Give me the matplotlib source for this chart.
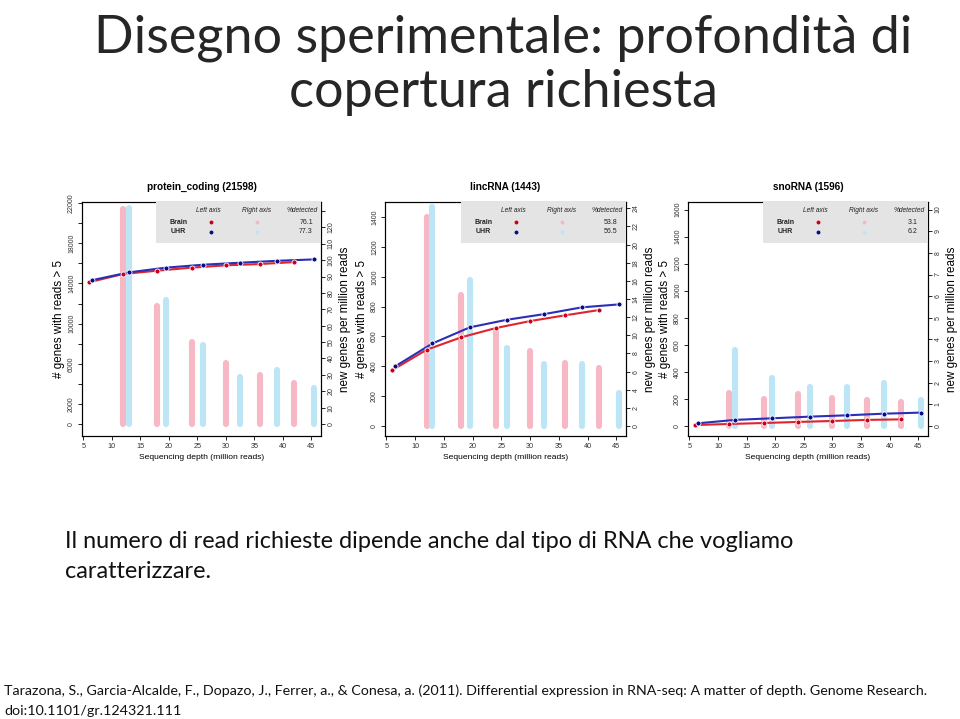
import matplotlib
matplotlib.use("Agg")
import matplotlib.pyplot as plt
from matplotlib.patches import Rectangle
from matplotlib.lines import Line2D

W, H = 960, 719

# sequencing depth (million reads)
depth_brain = [6, 12, 18, 24, 30, 36, 42]
depth_uhr = [6.5, 13, 19.5, 26, 32.5, 39, 45.5]
x_ticks = [5, 10, 15, 20, 25, 30, 35, 40, 45]

# protein_coding
pc_genes_brain = [14120, 14940, 15270, 15570, 15800, 15930, 16120]
pc_genes_uhr = [14320, 15100, 15570, 15860, 16060, 16250, 16390]
pc_new_brain = [131, 72, 49.8, 37.3, 30, 25.2]
pc_new_uhr = [131.7, 75.6, 48, 28.8, 32.9, 22.2]

# lincRNA
linc_genes_brain = [374, 511, 594, 656, 703, 741, 777]
linc_genes_uhr = [399, 553, 661, 712, 750, 795, 815]
linc_new_brain = [23.1, 14.4, 10.5, 8.3, 6.9, 6.35]
linc_new_uhr = [24.1, 16.1, 8.6, 6.83, 6.8, 3.6]

# snoRNA
sno_genes_brain = [7, 15, 22, 30, 37, 45, 49]
sno_genes_uhr = [20, 45, 57, 69, 79, 91, 99]
sno_new_brain = [1.51, 1.24, 1.47, 1.31, 1.22, 1.13]
sno_new_uhr = [3.49, 2.24, 1.82, 1.82, 1.98, 1.2]

panels = [
    dict(title="protein_coding (21598)", gb=pc_genes_brain, gu=pc_genes_uhr,
         nb=pc_new_brain, nu=pc_new_uhr,
         lticks=list(range(0, 22001, 2000)),
         llabels=["0", "2000", "", "6000", "", "10000", "", "14000", "", "18000", "", "22000"],
         lylim=(-1180, 22100),
         rticks=list(range(0, 131, 10)),
         rlabels=[str(v) for v in range(0, 121, 10)] + [""],
         rylim=(-7.3, 135.5),
         pct=("76.1", "77.3"), box=(82, 321)),
    dict(title="lincRNA (1443)", gb=linc_genes_brain, gu=linc_genes_uhr,
         nb=linc_new_brain, nu=linc_new_uhr,
         lticks=list(range(0, 1401, 200)),
         llabels=[str(v) for v in range(0, 1401, 200)],
         lylim=(-67, 1501),
         rticks=list(range(0, 25, 2)),
         rlabels=[str(v) for v in range(0, 25, 2)],
         rylim=(-1.1, 24.7),
         pct=("53.8", "56.5"), box=(385, 626)),
    dict(title="snoRNA (1596)", gb=sno_genes_brain, gu=sno_genes_uhr,
         nb=sno_new_brain, nu=sno_new_uhr,
         lticks=list(range(0, 1601, 200)),
         llabels=[str(v) for v in range(0, 1601, 200)],
         lylim=(-74, 1656),
         rticks=list(range(0, 11, 1)),
         rlabels=[str(v) for v in range(0, 11, 1)],
         rylim=(-0.46, 10.35),
         pct=("3.1", "6.2"), box=(688, 928)),
]

RED_LINE = "#e0242c"
RED_PT = "#c8001e"
BLUE_LINE = "#2a2fb8"
BLUE_PT = "#0a0a8c"
PINK = "#f6b8c5"
LBLUE = "#bce5f6"
LEG_BG = "#e4e4e4"
TICK_C = "#333333"

plt.rcParams['font.family'] = ['Liberation Sans', 'DejaVu Sans']

fig = plt.figure(figsize=(W / 100, H / 100), dpi=100)


def fx(x):
    return x / W


def fy(y):
    return 1 - y / H


TOP, BOTTOM = 202, 436

for p in panels:
    left, right = p["box"]
    ax = fig.add_axes([fx(left), fy(BOTTOM), fx(right - left), (BOTTOM - TOP) / H])
    ax2 = ax.twinx()
    ax.set_zorder(ax2.get_zorder() + 1)
    ax.patch.set_visible(False)

    # bars: new genes per million reads (right axis)
    lc1 = ax2.vlines(depth_brain[1:], 0, p["nb"], colors=PINK, linewidth=4.4)
    lc2 = ax2.vlines(depth_uhr[1:], 0, p["nu"], colors=LBLUE, linewidth=4.4)
    lc1.set_capstyle("round")
    lc2.set_capstyle("round")

    # lines: genes detected (left axis)
    ax.plot(depth_brain, p["gb"], "-", color=RED_LINE, lw=1.5, zorder=3)
    ax.plot(depth_brain, p["gb"], "o", color=RED_PT, ms=3.6, mec="white", mew=0.6, zorder=4)
    ax.plot(depth_uhr, p["gu"], "-", color=BLUE_LINE, lw=1.5, zorder=3)
    ax.plot(depth_uhr, p["gu"], "o", color=BLUE_PT, ms=3.6, mec="white", mew=0.6, zorder=4)

    ax.set_xlim(4.75, 46.7)
    ax.set_ylim(*p["lylim"])
    ax2.set_ylim(*p["rylim"])

    ax.set_xticks(x_ticks)
    ax.set_xticklabels([str(v) for v in x_ticks], fontsize=5.2, color=TICK_C)
    ax.set_yticks(p["lticks"])
    ax.set_yticklabels(p["llabels"], fontsize=5, rotation=90, va="center", color=TICK_C)
    ax2.set_yticks(p["rticks"])
    ax2.set_yticklabels(p["rlabels"], fontsize=5, rotation=90, va="center", color=TICK_C)
    for a in (ax, ax2):
        a.tick_params(direction="out", length=3, width=0.6, pad=2)
        for s in a.spines.values():
            s.set_linewidth(0.8)

    ax.set_xlabel("Sequencing depth (million reads)", fontsize=6.1, labelpad=3)
    ax.set_ylabel("# genes with reads > 5", fontsize=8.4, labelpad=2)
    ax2.set_ylabel("new genes per million reads", fontsize=8.4, labelpad=3)
    ax.set_title(p["title"], fontsize=7.2, fontweight="bold", pad=9)

    # legend box in the top right corner
    lx0 = right - 165
    ax.add_patch(Rectangle((fx(lx0), fy(TOP + 41)), fx(165), 41 / H,
                           transform=fig.transFigure, facecolor=LEG_BG,
                           edgecolor="none", zorder=10, clip_on=False))
    hdr_y = fy(TOP + 8.5)
    r1_y = fy(TOP + 20)
    r2_y = fy(TOP + 30)
    for txt, dx in (("Left axis", 52), ("Right axis", 101), ("%detected", 146)):
        ax.text(fx(lx0 + dx), hdr_y, txt, transform=fig.transFigure, fontsize=4.8,
                style="italic", ha="center", va="center", color="#222222", zorder=11)
    ax.text(fx(lx0 + 23), r1_y, "Brain", transform=fig.transFigure, fontsize=5,
            fontweight="bold", ha="center", va="center", color="#222222", zorder=11)
    ax.text(fx(lx0 + 22), r2_y, "UHR", transform=fig.transFigure, fontsize=5,
            fontweight="bold", ha="center", va="center", color="#222222", zorder=11)
    ax.text(fx(lx0 + 150), r1_y, p["pct"][0], transform=fig.transFigure, fontsize=5,
            ha="center", va="center", color="#222222", zorder=11)
    ax.text(fx(lx0 + 150), r2_y, p["pct"][1], transform=fig.transFigure, fontsize=5,
            ha="center", va="center", color="#222222", zorder=11)
    for dx, yy, col in ((55, r1_y, RED_PT), (101, r1_y, PINK),
                        (55, r2_y, BLUE_PT), (101, r2_y, LBLUE)):
        fig.add_artist(Line2D([fx(lx0 + dx)], [yy], marker="o", ms=1.8, color=col,
                              transform=fig.transFigure, zorder=12))

# slide text
fig.text(fx(503), fy(38), "Disegno sperimentale: profondità di", fontsize=37.5,
         fontfamily="Lato", ha="center", va="center", color="#262626")
fig.text(fx(503), fy(92), "copertura richiesta", fontsize=37.5,
         fontfamily="Lato", ha="center", va="center", color="#262626")

fig.text(fx(65), fy(541), "Il numero di read richieste dipende anche dal tipo di RNA che vogliamo",
         fontsize=16.9, fontfamily="Lato", ha="left", va="center", color="#111111")
fig.text(fx(65), fy(571), "caratterizzare.",
         fontsize=16.9, fontfamily="Lato", ha="left", va="center", color="#111111")

fig.text(fx(4), fy(691),
         "Tarazona, S., Garcia-Alcalde, F., Dopazo, J., Ferrer, a., & Conesa, a. (2011). "
         "Differential expression in RNA-seq: A matter of depth. Genome Research.",
         fontsize=10.3, fontfamily="Lato", ha="left", va="center", color="#111111")
fig.text(fx(4), fy(711), "doi:10.1101/gr.124321.111",
         fontsize=10.3, fontfamily="Lato", ha="left", va="center", color="#111111")

fig.savefig("out.png", dpi=100)
